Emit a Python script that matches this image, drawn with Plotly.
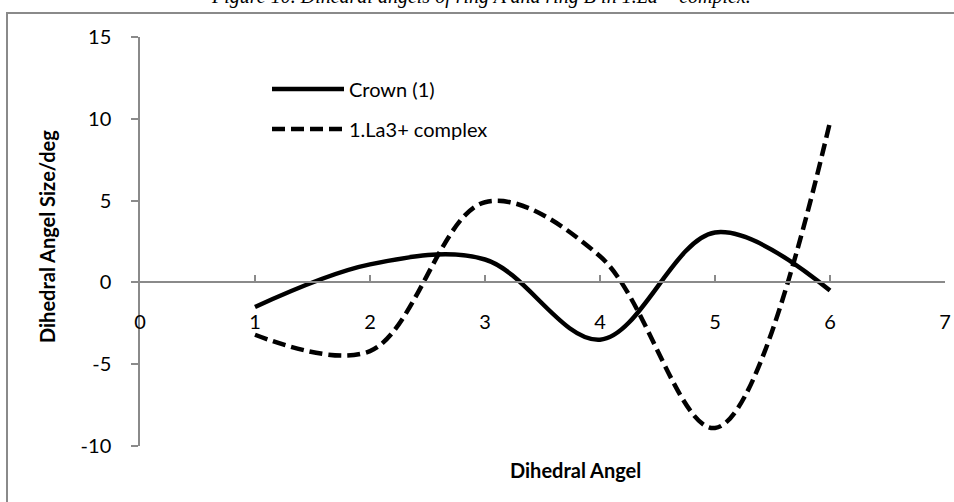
import plotly.graph_objects as go

# Dihedral angle index and measured angle sizes (degrees)
angle_index = [1, 2, 3, 4, 5, 6]
crown_values = [-1.5, 1.1, 1.4, -3.5, 3.05, -0.5]
complex_values = [-3.2, -4.2, 4.9, 1.6, -8.9, 9.8]

series_names = ["Crown (1)", "1.La3+ complex"]
x_ticks = [0, 1, 2, 3, 4, 5, 6, 7]
y_ticks = [-10, -5, 0, 5, 10, 15]

W, H = 954, 502
L, R, T, B = 140, 9, 37, 56
FONT = "Lato, 'Open Sans', sans-serif"
GRID = "#8a8a8a"


def px(x):
    return (x - L) / (W - L - R)


def py(y):
    return (H - B - y) / (H - T - B)


fig = go.Figure()
fig.add_trace(go.Scatter(
    x=angle_index, y=crown_values, name=series_names[0], mode="lines",
    line=dict(color="black", width=4.5, shape="spline", smoothing=1.0),
))
fig.add_trace(go.Scatter(
    x=angle_index, y=complex_values, name=series_names[1], mode="lines",
    line=dict(color="black", width=4.5, shape="spline", smoothing=1.0,
              dash="13px,6px"),
))

shapes = [
    # chart frame
    dict(type="rect", xref="paper", yref="paper",
         x0=px(7), x1=px(990), y0=py(13), y1=py(540),
         line=dict(color=GRID, width=2), layer="below"),
    # legend keys
    dict(type="line", xref="paper", yref="paper",
         x0=px(272), x1=px(344), y0=py(89), y1=py(89),
         line=dict(color="black", width=4.5)),
    dict(type="line", xref="paper", yref="paper",
         x0=px(272), x1=px(344), y0=py(129), y1=py(129),
         line=dict(color="black", width=4.5, dash="13px,6px")),
]

annotations = [
    dict(text="<i>Figure 10. Dihedral angels of ring A and ring B in 1.La<sup>3+</sup> complex.</i>",
         xref="paper", yref="paper", x=px(481), y=py(-5),
         xanchor="center", yanchor="middle", showarrow=False,
         font=dict(family="'Liberation Serif', serif", size=20, color="black")),
    dict(text="<b>Dihedral Angel Size/deg</b>", xref="paper", yref="paper",
         x=px(47), y=py(237), textangle=-90, xanchor="center", yanchor="middle",
         showarrow=False, font=dict(family=FONT, size=20, color="black")),
    dict(text="<b>Dihedral Angel</b>", xref="paper", yref="paper",
         x=px(575), y=py(470), xanchor="center", yanchor="middle",
         showarrow=False, font=dict(family=FONT, size=20, color="black")),
    dict(text=series_names[0], xref="paper", yref="paper",
         x=px(347), y=py(89), xanchor="left", yanchor="middle",
         showarrow=False, font=dict(family=FONT, size=20, color="black")),
    dict(text=series_names[1], xref="paper", yref="paper",
         x=px(347), y=py(129), xanchor="left", yanchor="middle",
         showarrow=False, font=dict(family=FONT, size=20, color="black")),
]

fig.update_layout(
    width=W, height=H,
    margin=dict(l=L, r=R, t=T, b=B, autoexpand=False),
    paper_bgcolor="white", plot_bgcolor="white",
    showlegend=False,
    shapes=shapes, annotations=annotations,
    font=dict(family=FONT, size=20, color="black"),
    xaxis=dict(
        range=[0, 7], tickvals=x_ticks, ticktext=[str(v) for v in x_ticks],
        showgrid=False, zeroline=False, showline=True, linecolor=GRID, linewidth=1.5,
        ticks="inside", ticklen=7, tickwidth=1.5, tickcolor=GRID,
        anchor="free", position=0.4, ticklabelstandoff=22,
        tickfont=dict(family=FONT, size=20, color="black"),
    ),
    yaxis=dict(
        range=[-10, 15], tickvals=y_ticks, ticktext=[str(v) for v in y_ticks],
        showgrid=False, zeroline=False, showline=True, linecolor=GRID, linewidth=1.5,
        ticks="outside", ticklen=7, tickwidth=1.5, tickcolor=GRID,
        ticklabelstandoff=16,
        tickfont=dict(family=FONT, size=20, color="black"),
    ),
)

fig.write_html("out.html")
